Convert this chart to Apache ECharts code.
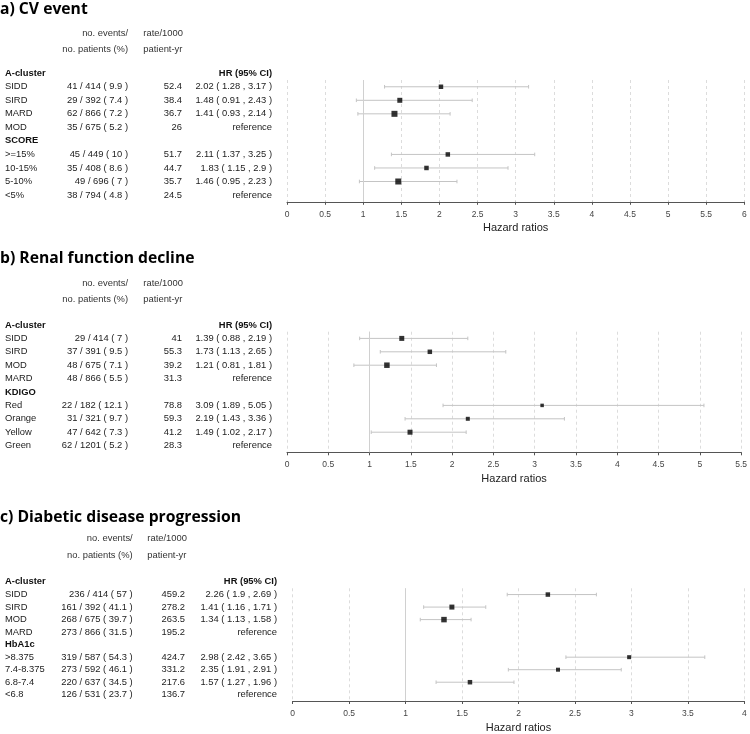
<!DOCTYPE html>
<html><head><meta charset="utf-8">
<script src="https://cdn.jsdelivr.net/npm/echarts@6/dist/echarts.min.js"></script>
<style>html,body{margin:0;padding:0;background:#fff}#c{width:750px;height:734px}</style>
</head><body><div id="c"></div>
<script>
// ---------- Panel a: CV event ----------
const aTitle = 'a) CV event';
const aGroupHead = 'A-cluster';
const aLabels   = ['SIDD','SIRD','MARD','MOD','SCORE','>=15%','10-15%','5-10%','<5%'];
const aEvents   = [41,29,62,35,null,45,35,49,38];
const aPatients = [414,392,866,675,null,449,408,696,794];
const aPct      = [9.9,7.4,7.2,5.2,null,10,8.6,7,4.8];
const aRate     = [52.4,38.4,36.7,26,null,51.7,44.7,35.7,24.5];
const aHR       = [2.02,1.48,1.41,null,null,2.11,1.83,1.46,null];
const aLo       = [1.28,0.91,0.93,null,null,1.37,1.15,0.95,null];
const aHi       = [3.17,2.43,2.14,null,null,3.25,2.9,2.23,null];
const aTicks    = [0,0.5,1,1.5,2,2.5,3,3.5,4,4.5,5,5.5,6];

// ---------- Panel b: Renal function decline ----------
const bTitle = 'b) Renal function decline';
const bGroupHead = 'A-cluster';
const bLabels   = ['SIDD','SIRD','MOD','MARD','KDIGO','Red','Orange','Yellow','Green'];
const bEvents   = [29,37,48,48,null,22,31,47,62];
const bPatients = [414,391,675,866,null,182,321,642,1201];
const bPct      = [7,9.5,7.1,5.5,null,12.1,9.7,7.3,5.2];
const bRate     = [41,55.3,39.2,31.3,null,78.8,59.3,41.2,28.3];
const bHR       = [1.39,1.73,1.21,null,null,3.09,2.19,1.49,null];
const bLo       = [0.88,1.13,0.81,null,null,1.89,1.43,1.02,null];
const bHi       = [2.19,2.65,1.81,null,null,5.05,3.36,2.17,null];
const bTicks    = [0,0.5,1,1.5,2,2.5,3,3.5,4,4.5,5,5.5];

// ---------- Panel c: Diabetic disease progression ----------
const cTitle = 'c) Diabetic disease progression';
const cGroupHead = 'A-cluster';
const cLabels   = ['SIDD','SIRD','MOD','MARD','HbA1c','>8.375','7.4-8.375','6.8-7.4','<6.8'];
const cEvents   = [236,161,268,273,null,319,273,220,126];
const cPatients = [414,392,675,866,null,587,592,637,531];
const cPct      = [57,41.1,39.7,31.5,null,54.3,46.1,34.5,23.7];
const cRate     = [459.2,278.2,263.5,195.2,null,424.7,331.2,217.6,136.7];
const cHR       = [2.26,1.41,1.34,null,null,2.98,2.35,1.57,null];
const cLo       = [1.9,1.16,1.13,null,null,2.42,1.91,1.27,null];
const cHi       = [2.69,1.71,1.58,null,null,3.65,2.91,1.96,null];
const cTicks    = [0,0.5,1,1.5,2,2.5,3,3.5,4];

// ---------- styling / layout (not data) ----------
const aBox = [4.5,5,6,0,0,4.5,4.5,6,0];
const bBox = [5,4.5,5.5,0,0,3.5,4,5,0];
const cBox = [4.5,5,5.5,0,0,4,4,4.5,0];

const panels = [
  {title:aTitle, head:aGroupHead, labels:aLabels, ev:aEvents, pt:aPatients, pct:aPct, rate:aRate, hr:aHR, lo:aLo, hi:aHi, ticks:aTicks, box:aBox,
   L:{titleY:10, h1:33.3, h2:49, top:80, bottom:201.8, left:287, right:744.3, labX:5, cnt:128, rate:182, hrX:272, rateL:143.3}},
  {title:bTitle, head:bGroupHead, labels:bLabels, ev:bEvents, pt:bPatients, pct:bPct, rate:bRate, hr:bHR, lo:bLo, hi:bHi, ticks:bTicks, box:bBox,
   L:{titleY:258.5, h1:283.3, h2:299.5, top:331.7, bottom:452.3, left:287, right:744.3, labX:5, cnt:128, rate:182, hrX:272, rateL:143.3}},
  {title:cTitle, head:cGroupHead, labels:cLabels, ev:cEvents, pt:cPatients, pct:cPct, rate:cRate, hr:cHR, lo:cLo, hi:cHi, ticks:cTicks, box:cBox,
   L:{titleY:517.5, h1:538, h2:555, top:588.3, bottom:709, left:292.7, right:744.3, labX:5, cnt:132.7, rate:185, hrX:277, rateL:147.3}}
];

const TXT = '#222';
const FONT = 'Liberation Sans, Arial, sans-serif';
const FS = 9.4;

const option = {animation:false, backgroundColor:'#fff', grid:[], xAxis:[], yAxis:[], series:[], graphic:[]};

panels.forEach((p, k) => {
  const L = p.L;
  const margin = L.left - L.hrX;
  const wCnt = 63;
  const wLab = L.cnt - wCnt - L.labX;
  const wRate = L.rate - L.cnt;
  const wHr = L.hrX - L.rate;
  const total = wLab + wCnt + wRate + wHr;
  const band = (L.bottom - L.top) / p.labels.length;

  option.grid.push({left:L.left, top:L.top, width:L.right - L.left, height:L.bottom - L.top, containLabel:false});
  option.xAxis.push({
    type:'value', gridIndex:k, min:p.ticks[0], max:p.ticks[p.ticks.length-1], interval:p.ticks[1]-p.ticks[0],
    axisLine:{show:true, onZero:false, lineStyle:{color:'#555', width:1}},
    axisTick:{show:true, length:3, lineStyle:{color:'#555'}},
    axisLabel:{fontSize:8.5, color:'#444', margin:8, fontFamily:FONT, formatter:v=>String(v)},
    splitLine:{show:true, lineStyle:{type:[3,3], color:'#dcdcdc', width:1}},
    name:'Hazard ratios', nameLocation:'middle', nameGap:21,
    nameTextStyle:{fontSize:11, color:TXT, fontFamily:FONT}
  });
  option.yAxis.push({
    type:'category', gridIndex:k, inverse:true, data:p.labels,
    axisLine:{show:false}, axisTick:{show:false}, splitLine:{show:false},
    axisLabel:{
      interval:0, margin:margin, fontSize:FS, color:TXT, fontFamily:FONT,
      formatter:(v, i) => {
        if (p.ev[i] == null) return '{grp|' + v + '}';
        const cnt = p.ev[i] + ' / ' + p.pt[i] + ' ( ' + p.pct[i] + ' )';
        const hr = p.hr[i] == null ? 'reference' : (p.hr[i] + ' ( ' + p.lo[i] + ' , ' + p.hi[i] + ' )');
        return '{lab|' + v + '}{cnt|' + cnt + '}{rate|' + p.rate[i] + '}{hr|' + hr + '}';
      },
      rich:{
        lab:{width:wLab, align:'left', fontSize:FS, color:TXT, fontFamily:FONT},
        cnt:{width:wCnt, align:'right', fontSize:FS, color:TXT, fontFamily:FONT},
        rate:{width:wRate, align:'right', fontSize:FS, color:TXT, fontFamily:FONT},
        hr:{width:wHr, align:'right', fontSize:FS, color:TXT, fontFamily:FONT},
        grp:{width:total, align:'left', fontSize:FS, fontWeight:'bold', color:'#111', fontFamily:FONT}
      }
    }
  });

  const ciData = [], ptData = [];
  p.labels.forEach((lab, i) => {
    if (p.hr[i] != null) {
      ciData.push([p.lo[i], p.hi[i], lab]);
      ptData.push({value:[p.hr[i], lab], symbolSize:p.box[i]});
    }
  });
  option.series.push({
    type:'custom', xAxisIndex:k, yAxisIndex:k, data:ciData, z:3,
    encode:{x:[0,1], y:2},
    renderItem:(params, api) => {
      const y = api.value(2);
      const a = api.coord([api.value(0), y]);
      const b = api.coord([api.value(1), y]);
      const st = {stroke:'#c4c4c4', lineWidth:1};
      return {type:'group', children:[
        {type:'line', shape:{x1:a[0], y1:a[1], x2:b[0], y2:b[1]}, style:st},
        {type:'line', shape:{x1:a[0], y1:a[1]-1.8, x2:a[0], y2:a[1]+1.8}, style:st},
        {type:'line', shape:{x1:b[0], y1:b[1]-1.8, x2:b[0], y2:b[1]+1.8}, style:st}
      ]};
    }
  });
  option.series.push({
    type:'scatter', xAxisIndex:k, yAxisIndex:k, data:ptData, symbol:'rect', z:5,
    itemStyle:{color:'#000'},
    markLine:{silent:true, symbol:['none','none'], label:{show:false},
      lineStyle:{color:'#d0d0d0', type:'solid', width:1}, data:[{xAxis:1}]}
  });

  // panel title and table headers
  option.graphic.push({type:'text', x:0, y:L.titleY, style:{text:p.title, font:'bold 15.7px "Open Sans", sans-serif', fill:'#000', verticalAlign:'middle'}});
  const hs = {fontSize:FS, fontFamily:FONT, fill:'#333'};
  option.graphic.push({type:'text', x:L.cnt, y:L.h1, style:Object.assign({text:'no. events/', align:'right', verticalAlign:'middle'}, hs)});
  option.graphic.push({type:'text', x:L.cnt, y:L.h2, style:Object.assign({text:'no. patients (%)', align:'right', verticalAlign:'middle'}, hs)});
  option.graphic.push({type:'text', x:L.rateL, y:L.h1, style:Object.assign({text:'rate/1000', align:'left', verticalAlign:'middle'}, hs)});
  option.graphic.push({type:'text', x:L.rateL, y:L.h2, style:Object.assign({text:'patient-yr', align:'left', verticalAlign:'middle'}, hs)});
  const rowY = L.top - band / 2;
  const bs = {fontSize:FS, fontFamily:FONT, fontWeight:'bold', fill:'#111', verticalAlign:'middle'};
  option.graphic.push({type:'text', x:L.labX, y:rowY, style:Object.assign({text:p.head, align:'left'}, bs)});
  option.graphic.push({type:'text', x:L.hrX, y:rowY, style:Object.assign({text:'HR (95% CI)', align:'right'}, bs)});
});

const chart = echarts.init(document.getElementById('c'), null, {renderer:'canvas'});
chart.setOption(option);
</script>
</body></html>
